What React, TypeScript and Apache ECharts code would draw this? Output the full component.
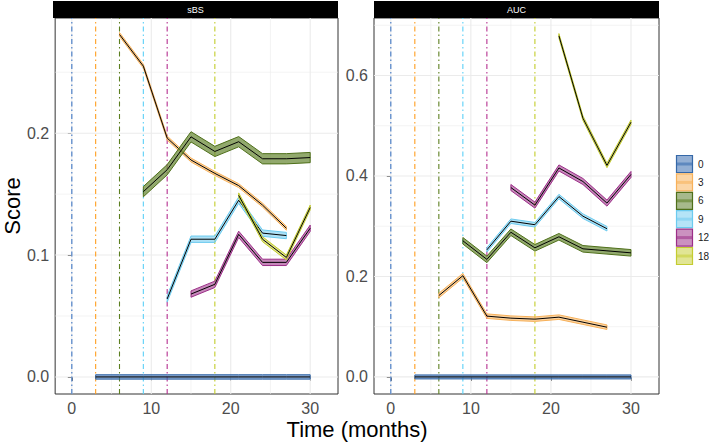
import { useEffect, useRef } from 'react';
import * as echarts from 'echarts';

// ---------- data ----------
const TIMES = [3, 6, 9, 12, 15, 18, 21, 24, 27, 30];
const HORIZONS = ['0', '3', '6', '9', '12', '18'];
const HORIZON_MONTHS = [0, 3, 6, 9, 12, 18];
const PANELS = ['sBS', 'AUC'];

const X_TICKS = [0, 10, 20, 30];
const X_MINOR = [5, 15, 25];
const SBS_TICKS = [0, 0.1, 0.2];
const SBS_MINOR = [0.05, 0.15, 0.25];
const AUC_TICKS = [0, 0.2, 0.4, 0.6];
const AUC_MINOR = [0.1, 0.3, 0.5, 0.7];

const sbs0 = [0, 0, 0, 0, 0, 0, 0, 0, 0, 0];
const sbs3 = [null, 0.281, 0.255, 0.196, 0.178, 0.167, 0.157, 0.141, 0.122, null];
const sbs6 = [null, null, 0.152, 0.170, 0.197, 0.185, 0.193, 0.179, 0.179, 0.180];
const sbs9 = [null, null, null, 0.064, 0.113, 0.113, 0.145, 0.118, 0.116, null];
const sbs12 = [null, null, null, null, 0.068, 0.076, 0.117, 0.094, 0.094, 0.122];
const sbs18 = [null, null, null, null, null, null, 0.149, 0.113, 0.098, 0.139];
const sbsHalfWidth = [0.0018, 0.0016, 0.0042, 0.0026, 0.0026, 0.002];

const auc0 = [0, 0, 0, 0, 0, 0, 0, 0, 0, 0];
const auc3 = [null, 0.162, 0.2015, 0.121, 0.117, 0.115, 0.119, 0.109, 0.099, null];
const auc6 = [null, null, 0.271, 0.234, 0.288, 0.257, 0.279, 0.255, 0.251, 0.247];
const auc9 = [null, null, null, 0.253, 0.31, 0.303, 0.359, 0.32, 0.295, null];
const auc12 = [null, null, null, null, 0.377, 0.342, 0.416, 0.389, 0.346, 0.403];
const auc18 = [null, null, null, null, null, null, 0.679, 0.515, 0.421, 0.507];
const aucHalfWidth = [0.004, 0.0045, 0.0065, 0.0045, 0.006, 0.0045];

const SBS = [sbs0, sbs3, sbs6, sbs9, sbs12, sbs18];
const AUC = [auc0, auc3, auc6, auc9, auc12, auc18];

// ---------- styles ----------
const FONT = "'Liberation Sans', Arial, sans-serif";
const STROKE = ['#3568a8', '#f7b15a', '#4f701a', '#6ccbef', '#9c2f88', '#c4cc30'];
const FILL = [
  'rgba(58,110,176,0.6)',
  'rgba(248,180,95,0.6)',
  'rgba(110,140,60,0.75)',
  'rgba(120,205,240,0.6)',
  'rgba(160,55,140,0.6)',
  'rgba(200,208,60,0.6)',
];
const KEY_FILL = [
  'rgba(58,110,176,0.55)',
  'rgba(248,180,95,0.55)',
  'rgba(95,128,45,0.55)',
  'rgba(120,205,240,0.55)',
  'rgba(160,55,140,0.55)',
  'rgba(200,208,60,0.55)',
];
const VLINE = ['#3f76c4', '#ff9d1e', '#5c7f20', '#5ad0f8', '#b52f8f', '#c2cc2a'];

const GRID_LEFT = [53, 374];
const GRID_TOP = 18;
const GRID_W = 285;
const GRID_H = 376;
const X_MIN = -2.1;
const X_MAX = 33.5;
const Y_MIN = [-0.014, -0.034];
const Y_MAX = [0.2945, 0.7145];

export default function App() {
  const ref = useRef<HTMLDivElement>(null);

  useEffect(() => {
    if (!ref.current) return;
    const chart = echarts.init(ref.current, undefined, { renderer: 'svg' });

    const series: any[] = [];
    const panelData = [SBS, AUC];
    const panelHW = [sbsHalfWidth, aucHalfWidth];
    const yTicks = [SBS_TICKS, AUC_TICKS];
    const yMinor = [SBS_MINOR, AUC_MINOR];

    const segLine = (p: number, data: number[][], color: string, width: number, type: any, z: number) => ({
      type: 'line',
      xAxisIndex: p,
      yAxisIndex: p,
      data,
      z,
      silent: true,
      showSymbol: false,
      symbol: 'none',
      lineStyle: { color, width, type },
      emphasis: { disabled: true },
    });

    for (let p = 0; p < 2; p++) {
      // grid lines
      X_MINOR.forEach((v) =>
        series.push(segLine(p, [[v, Y_MIN[p]], [v, Y_MAX[p]]], '#ededed', 0.6, 'solid', 0))
      );
      yMinor[p].forEach((v) =>
        series.push(segLine(p, [[X_MIN, v], [X_MAX, v]], '#ededed', 0.6, 'solid', 0))
      );
      X_TICKS.forEach((v) =>
        series.push(segLine(p, [[v, Y_MIN[p]], [v, Y_MAX[p]]], '#ebebeb', 1.1, 'solid', 0))
      );
      yTicks[p].forEach((v) =>
        series.push(segLine(p, [[X_MIN, v], [X_MAX, v]], '#ebebeb', 1.1, 'solid', 0))
      );
      // vertical horizon lines
      HORIZON_MONTHS.forEach((m, i) =>
        series.push(segLine(p, [[m, Y_MIN[p]], [m, Y_MAX[p]]], VLINE[i], 1.1, [5, 3, 1.5, 3], 1))
      );
      // ribbons with centre lines
      panelData[p].forEach((vals, i) => {
        const hw = panelHW[p][i];
        series.push({
          type: 'custom',
          name: HORIZONS[i],
          xAxisIndex: p,
          yAxisIndex: p,
          data: [[TIMES[0], 0]],
          z: 2,
          silent: true,
          renderItem: (_params: any, api: any) => {
            const up: number[][] = [];
            const lo: number[][] = [];
            const mid: number[][] = [];
            TIMES.forEach((t, k) => {
              const v = vals[k];
              if (v == null) return;
              up.push(api.coord([t, v + hw]));
              lo.push(api.coord([t, v - hw]));
              mid.push(api.coord([t, v]));
            });
            return {
              type: 'group',
              children: [
                {
                  type: 'polygon',
                  shape: { points: up.concat(lo.slice().reverse()) },
                  style: { fill: FILL[i], stroke: STROKE[i], lineWidth: 1 },
                },
                {
                  type: 'polyline',
                  shape: { points: mid },
                  style: { stroke: '#000', lineWidth: 1, fill: 'none' },
                },
              ],
            };
          },
        });
      });
    }

    const axisLabel = { color: '#4d4d4d', fontSize: 16, fontFamily: FONT };

    const graphic: any[] = [];
    PANELS.forEach((name, p) => {
      graphic.push({
        type: 'rect',
        shape: { x: GRID_LEFT[p], y: 1, width: GRID_W, height: 17 },
        style: { fill: '#000' },
        silent: true,
      });
      graphic.push({
        type: 'text',
        x: GRID_LEFT[p] + GRID_W / 2,
        y: 9.5,
        style: { text: name, fill: '#fff', fontSize: 9, fontFamily: FONT, align: 'center', verticalAlign: 'middle' },
        silent: true,
      });
    });
    HORIZONS.forEach((h, i) => {
      const y = 155 + i * 18.4;
      graphic.push({
        type: 'rect',
        shape: { x: 676.5, y: y + 0.5, width: 16, height: 17 },
        style: { fill: KEY_FILL[i], stroke: STROKE[i], lineWidth: 1.2 },
        silent: true,
      });
      graphic.push({
        type: 'rect',
        shape: { x: 677, y: y + 7.5, width: 15, height: 3 },
        style: { fill: FILL[i] },
        silent: true,
      });
      graphic.push({
        type: 'text',
        x: 698,
        y: y + 9,
        style: { text: h, fill: '#1a1a1a', fontSize: 10, fontFamily: FONT, align: 'left', verticalAlign: 'middle' },
        silent: true,
      });
    });
    graphic.push({
      type: 'text',
      x: 357,
      y: 429,
      style: { text: 'Time (months)', fill: '#000', fontSize: 22, fontFamily: FONT, align: 'center', verticalAlign: 'middle' },
      silent: true,
    });

    chart.setOption({
      animation: false,
      backgroundColor: '#fff',
      grid: GRID_LEFT.map((l) => ({
        left: l,
        top: GRID_TOP,
        width: GRID_W,
        height: GRID_H,
        show: true,
        borderColor: '#333333',
        borderWidth: 1,
        backgroundColor: '#fff',
        containLabel: false,
      })),
      xAxis: [0, 1].map((p) => ({
        type: 'value',
        gridIndex: p,
        min: X_MIN,
        max: X_MAX,
        axisLine: { show: false },
        splitLine: { show: false },
        axisTick: { show: true, length: 4, customValues: X_TICKS, lineStyle: { color: '#333' } },
        axisLabel: { ...axisLabel, margin: 6, customValues: X_TICKS, formatter: (v: number) => String(v) },
      })),
      yAxis: [0, 1].map((p) => ({
        type: 'value',
        gridIndex: p,
        min: Y_MIN[p],
        max: Y_MAX[p],
        name: p === 0 ? 'Score' : '',
        nameLocation: 'middle',
        nameGap: 28,
        nameTextStyle: { fontSize: 22, color: '#000', fontFamily: FONT },
        axisLine: { show: false },
        splitLine: { show: false },
        axisTick: { show: true, length: 4, customValues: yTicks[p], lineStyle: { color: '#333' } },
        axisLabel: { ...axisLabel, margin: 6, customValues: yTicks[p], formatter: (v: number) => v.toFixed(1) },
      })),
      series,
      graphic,
    });

    return () => chart.dispose();
  }, []);

  return (
    <div
      ref={ref}
      style={{ position: 'fixed', left: 0, top: 0, width: 709, height: 442, background: '#fff' }}
    />
  );
}
